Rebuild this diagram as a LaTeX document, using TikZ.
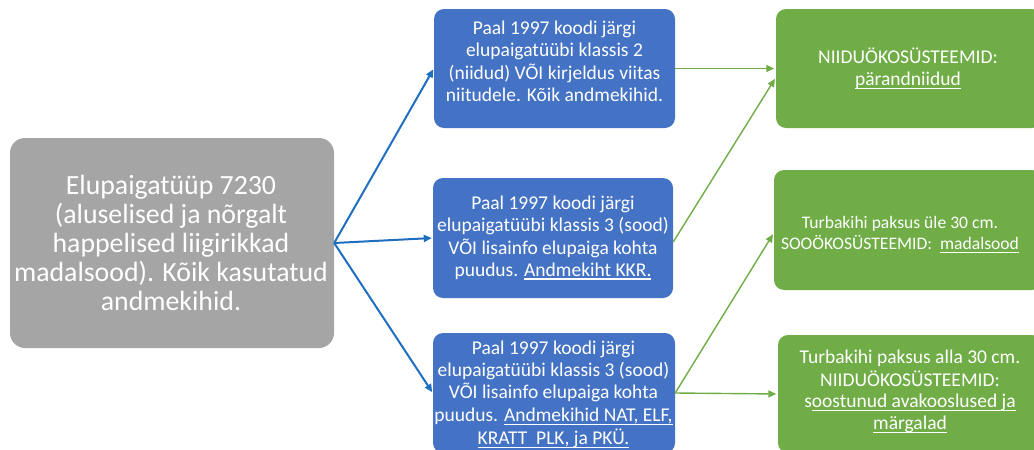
\documentclass[tikz,border=0pt]{standalone}
\usepackage{fontspec}
\setmainfont{Carlito}
\usetikzlibrary{arrows.meta}

\definecolor{boxgray}{HTML}{A5A5A5}
\definecolor{boxblue}{HTML}{4472C4}
\definecolor{boxgreen}{HTML}{70AD47}
\definecolor{linkblue}{HTML}{1F6FC0}
\definecolor{linkgreen}{HTML}{70AD47}

% underline drawn as a rule a fixed distance below the baseline
\newcommand\undl[1]{\setbox0\hbox{#1}\rlap{\rule[-3.5pt]{\wd0}{1.1pt}}\box0}
% line break with struts so every line box has the same height
\newcommand\nl{\strut\\\strut}

\tikzset{
  shapebox/.style={inner sep=0pt, rounded corners=10pt},
  caption/.style={text=white, align=center, inner sep=0pt,
    execute at begin node=\strut, execute at end node=\strut},
  rootfont/.style={font=\fontsize{27.8}{28.3}\selectfont},
  bodyfont/.style={font=\fontsize{19.5}{21.7}\selectfont},
  bluelink/.style={draw=linkblue, line width=2pt,
    -{Triangle[length=8pt,width=7pt]}, shorten >=1pt},
  greenlink/.style={draw=linkgreen, line width=1.4pt,
    -{Triangle[length=8pt,width=7pt]}, shorten >=1.5pt},
}

\begin{document}
\begin{tikzpicture}[x=1pt, y=-1pt]
  \useasboundingbox (0,0) rectangle (1034,450);
  \clip (0,0) rectangle (1034,450);

  % boxes
  \node[shapebox, fill=boxgray, rounded corners=15pt, minimum width=324pt, minimum height=210pt] (root) at (172,243) {};
  \node[shapebox, fill=boxblue, minimum width=241pt, minimum height=119pt] (q1) at (554.5,68.5) {};
  \node[shapebox, fill=boxblue, minimum width=240pt, minimum height=120pt] (q2) at (553,238) {};
  \node[shapebox, fill=boxblue, minimum width=242pt, minimum height=120pt] (q3) at (554,393) {};
  \node[shapebox, fill=boxgreen, minimum width=266pt, minimum height=119pt] (r1) at (909,68.5) {};
  \node[shapebox, fill=boxgreen, minimum width=268pt, minimum height=120pt] (r2) at (908,230) {};
  \node[shapebox, fill=boxgreen, minimum width=264pt, minimum height=118pt] (r3) at (910,394) {};

  % habitat type
  \node[caption, rootfont] (roott) at (171,246.5)
    {Elupaigatüüp 7230\nl(aluselised ja nõrgalt\nl happelised liigirikkad\nl madalsood). Kõik kasutatud\nl andmekihid.};

  % source conditions
  \node[caption, bodyfont] (q1t) at (554.5,63.5)
    {Paal 1997 koodi järgi\nl elupaigatüübi klassis 2\nl(niidud) VÕI kirjeldus viitas\nl niitudele. Kõik andmekihid.};
  \node[caption, bodyfont] (q2t) at (553,238.5)
    {Paal 1997 koodi järgi\nl elupaigatüübi klassis 3 (sood)\nl VÕI lisainfo elupaiga kohta\nl puudus. \undl{Andmekiht KKR.}};
  \node[caption, font=\fontsize{19.5}{22.3}\selectfont] (q3t) at (553.5,395)
    {Paal 1997 koodi järgi\nl elupaigatüübi klassis 3 (sood)\nl VÕI lisainfo elupaiga kohta\nl puudus. \undl{Andmekihid NAT, ELF,}\nl\undl{KRATT\ \ PLK, ja PKÜ.}};

  % resulting ecosystems
  \node[caption, bodyfont] (r1t) at (908,70)
    {NIIDUÖKOSÜSTEEMID:\nl\undl{pärandniidud}};
  \node[caption, font=\fontsize{17.6}{19.5}\selectfont] (r2t) at (900,235)
    {Turbakihi paksus üle 30 cm.\nl SOOÖKOSÜSTEEMID:\ \ \undl{madalsood}};
  \node[caption, bodyfont] (r3t) at (910,392)
    {Turbakihi paksus alla 30 cm.\nl NIIDUÖKOSÜSTEEMID:\nl s\undl{oostunud avakooslused ja}\nl\undl{märgalad}};

  % connectors
  \draw[bluelink] (root.east) -- (q1.west);
  \draw[bluelink] (root.east) -- (q2.west);
  \draw[bluelink] (root.east) -- (q3.west);

  \draw[greenlink] (q1.east) -- (r1.west);
  \draw[greenlink] ([yshift=-4pt]q2.east) -- ([yshift=-9pt]r1.west);
  \draw[greenlink] (q3.east) -- ([yshift=-3pt]r2.west);
  \draw[greenlink] (q3.east) -- (r3.west);
\end{tikzpicture}
\end{document}
